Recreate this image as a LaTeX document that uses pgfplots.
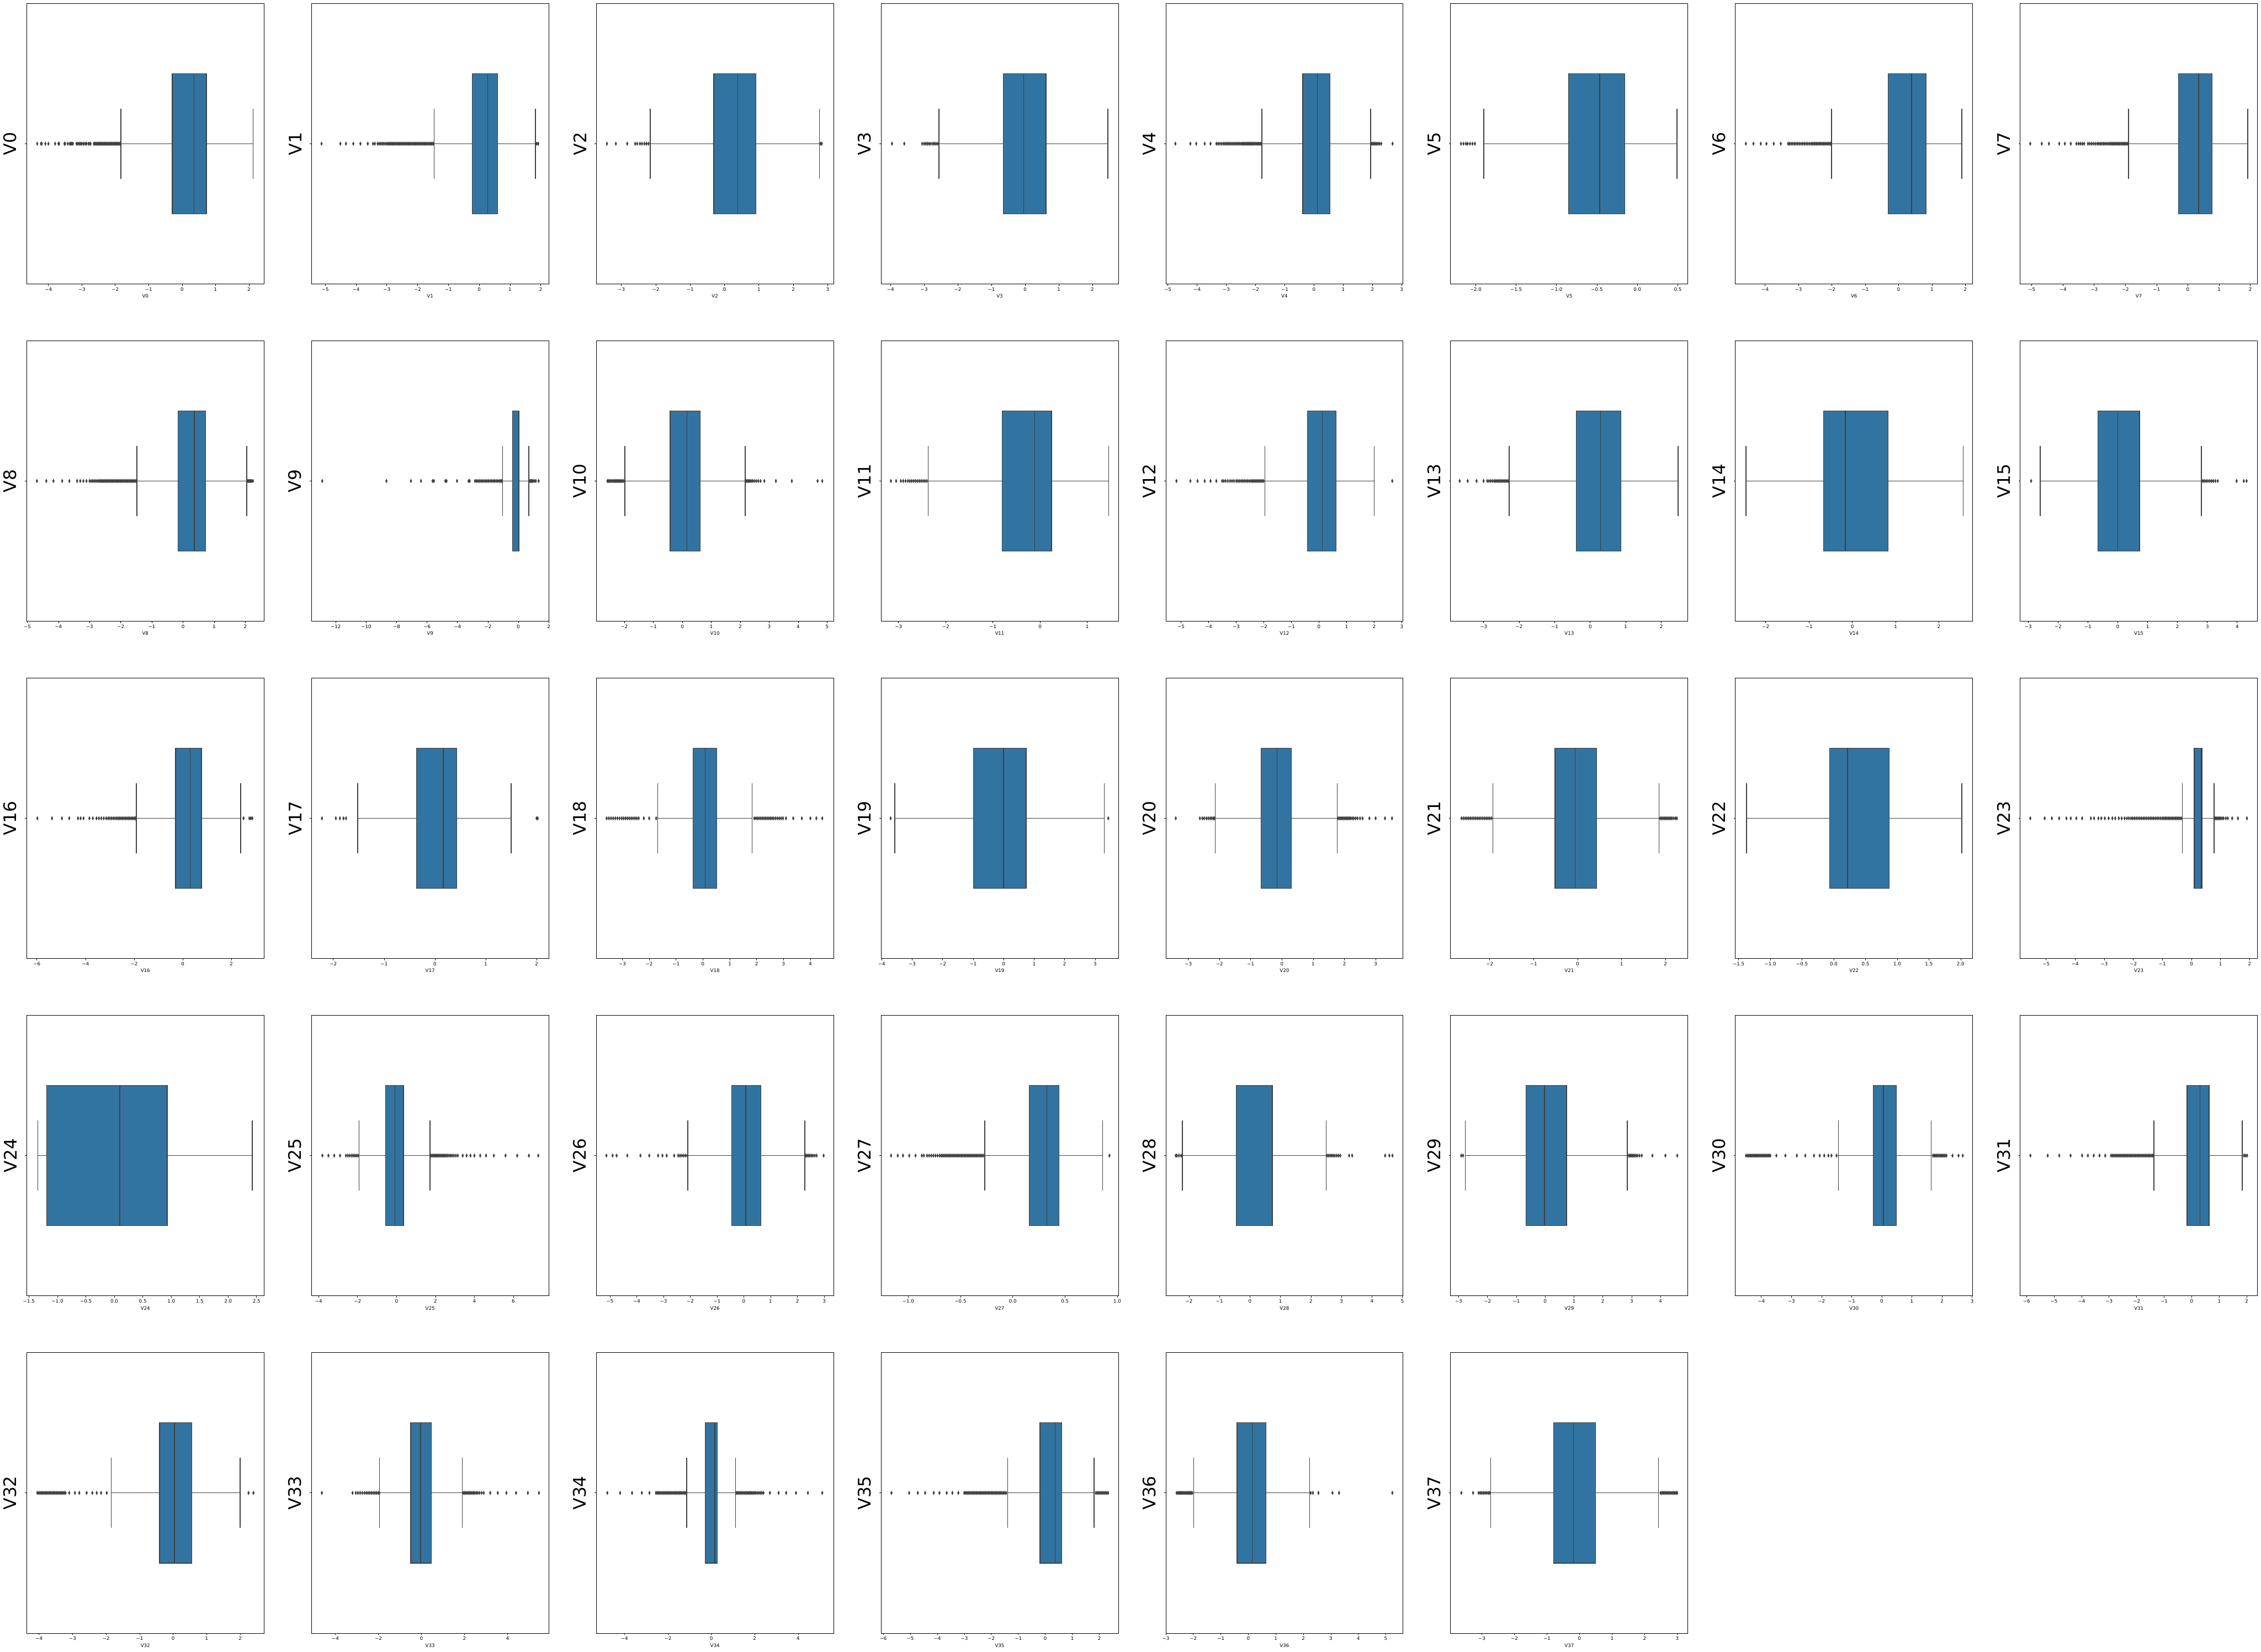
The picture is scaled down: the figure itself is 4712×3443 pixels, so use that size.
\documentclass[border=0pt]{standalone}
\usepackage{fontspec}
\setmainfont{DejaVu Sans}
\usepackage{pgfplots}
\pgfplotsset{compat=1.18}
\usepgfplotslibrary{statistics}
\definecolor{boxblue}{RGB}{50,116,161}
\definecolor{edgegray}{RGB}{63,63,63}
\pgfplotsset{
  bp/.style={
    scale only axis, width=494.5pt, height=585pt, anchor=north west,
    ymin=-0.5, ymax=0.5, ytick={0}, yticklabels={},
    tick pos=left, tick align=outside,
    major tick length=3.5pt,
    every tick/.style={black, line width=0.8pt},
    axis line style={black, line width=1pt},
    ticklabel style={font=\fontsize{10}{12}\selectfont, text=black},
    xlabel style={font=\fontsize{10}{12}\selectfont},
    every axis y label/.style={at={(axis description cs:-0.0417,0.5)}, rotate=90, anchor=south, inner sep=0pt, font=\fontsize{36}{43}\selectfont},
    boxplot/draw direction=x,
  },
  bx/.style={solid, draw=edgegray, line width=1.6pt, mark=none,
    boxplot/draw position=0, boxplot/box extend=0.5, boxplot/whisker extend=0.25,
    boxplot/every box/.style={fill=boxblue}},
  ol/.style={only marks, mark=diamond*, mark size=3.9pt,
    mark options={xscale=0.65, fill=edgegray, draw=edgegray, line width=0.6pt}},
}
\begin{document}
\begin{tikzpicture}
\useasboundingbox (0,0) rectangle (4712pt,-3443pt);
% ---------------- row 1
\begin{axis}[bp, at={(55.6pt,-7pt)}, xmin=-4.65, xmax=2.45, xtick={-4,...,2}, xticklabels={−4,−3,−2,−1,0,1,2}, xlabel={V0}, ylabel={V0}]
\addplot[bx, boxplot prepared={lower whisker=-1.83, lower quartile=-0.297, median=0.359, upper quartile=0.726, upper whisker=2.121}] coordinates {};
\addplot[ol] coordinates {(-4.335,0)(-4.22,0)(-4.20,0)(-4.09,0)(-4.00,0)(-3.80,0)(-3.70,0)(-3.68,0)(-3.52,0)(-3.50,0)(-3.42,0)(-3.36,0)(-3.33,0)(-3.30,0)(-3.27,0)(-3.16,0)(-3.12,0)(-3.08,0)(-3.04,0)(-3.00,0)(-2.95,0)(-2.90,0)(-2.86,0)(-2.80,0)(-2.76,0)(-2.74,0)(-2.64,0)(-2.61,0)(-2.58,0)(-2.55,0)(-2.52,0)(-2.49,0)(-2.46,0)(-2.43,0)(-2.40,0)(-2.37,0)(-2.34,0)(-2.31,0)(-2.28,0)(-2.25,0)(-2.22,0)(-2.19,0)(-2.16,0)(-2.13,0)(-2.10,0)(-2.07,0)(-2.04,0)(-2.01,0)(-1.98,0)(-1.95,0)(-1.92,0)(-1.89,0)(-1.86,0)};
\end{axis}
\begin{axis}[bp, at={(649.1pt,-7pt)}, xmin=-5.45, xmax=2.26, xtick={-5,...,2}, xticklabels={−5,−4,−3,−2,−1,0,1,2}, xlabel={V1}, ylabel={V1}]
\addplot[bx, boxplot prepared={lower whisker=-1.46, lower quartile=-0.226, median=0.2725, upper quartile=0.599, upper whisker=1.83}] coordinates {};
\addplot[ol] coordinates {(-5.122,0)(-4.51,0)(-4.33,0)(-4.09,0)(-3.86,0)(-3.62,0)(-3.45,0)(-3.39,0)(-3.30,0)(-3.25,0)(-3.20,0)(-3.15,0)(-3.10,0)(-3.05,0)(-3.00,0)(-2.96,0)(-2.92,0)(-2.88,0)(-2.84,0)(-2.80,0)(-2.76,0)(-2.72,0)(-2.68,0)(-2.64,0)(-2.60,0)(-2.56,0)(-2.52,0)(-2.48,0)(-2.44,0)(-2.40,0)(-2.36,0)(-2.32,0)(-2.28,0)(-2.24,0)(-2.20,0)(-2.16,0)(-2.12,0)(-2.08,0)(-2.04,0)(-2.00,0)(-1.96,0)(-1.92,0)(-1.88,0)(-1.84,0)(-1.80,0)(-1.76,0)(-1.72,0)(-1.68,0)(-1.64,0)(-1.60,0)(-1.56,0)(-1.52,0)(-1.48,0)(1.87,0)(1.918,0)};
\end{axis}
\begin{axis}[bp, at={(1242.6pt,-7pt)}, xmin=-3.73, xmax=3.17, xtick={-3,...,3}, xticklabels={−3,−2,−1,0,1,2,3}, xlabel={V2}, ylabel={V2}]
\addplot[bx, boxplot prepared={lower whisker=-2.16, lower quartile=-0.313, median=0.386, upper quartile=0.918, upper whisker=2.76}] coordinates {};
\addplot[ol] coordinates {(-3.42,0)(-3.16,0)(-2.83,0)(-2.60,0)(-2.54,0)(-2.46,0)(-2.40,0)(-2.33,0)(-2.27,0)(-2.21,0)(2.79,0)(2.828,0)};
\end{axis}
\begin{axis}[bp, at={(1836.1pt,-7pt)}, xmin=-4.28, xmax=2.77, xtick={-4,...,2}, xticklabels={−4,−3,−2,−1,0,1,2}, xlabel={V3}, ylabel={V3}]
\addplot[bx, boxplot prepared={lower whisker=-2.56, lower quartile=-0.652, median=-0.0445, upper quartile=0.624, upper whisker=2.457}] coordinates {};
\addplot[ol] coordinates {(-3.956,0)(-3.59,0)(-3.06,0)(-3.00,0)(-2.95,0)(-2.90,0)(-2.85,0)(-2.80,0)(-2.74,0)(-2.70,0)(-2.65,0)(-2.60,0)};
\end{axis}
\begin{axis}[bp, at={(2429.6pt,-7pt)}, xmin=-5.07, xmax=3.05, xtick={-5,...,3}, xticklabels={−5,−4,−3,−2,−1,0,1,2,3}, xlabel={V4}, ylabel={V4}]
\addplot[bx, boxplot prepared={lower whisker=-1.78, lower quartile=-0.385, median=0.11, upper quartile=0.550, upper whisker=1.94}] coordinates {};
\addplot[ol] coordinates {(-4.742,0)(-4.23,0)(-4.03,0)(-3.74,0)(-3.54,0)(-3.34,0)(-3.28,0)(-3.22,0)(-3.16,0)(-3.10,0)(-3.05,0)(-3.00,0)(-2.95,0)(-2.90,0)(-2.85,0)(-2.80,0)(-2.75,0)(-2.70,0)(-2.65,0)(-2.60,0)(-2.55,0)(-2.50,0)(-2.46,0)(-2.42,0)(-2.38,0)(-2.34,0)(-2.30,0)(-2.26,0)(-2.22,0)(-2.18,0)(-2.14,0)(-2.10,0)(-2.06,0)(-2.02,0)(-1.98,0)(-1.94,0)(-1.90,0)(-1.86,0)(-1.82,0)(1.98,0)(2.02,0)(2.06,0)(2.10,0)(2.14,0)(2.19,0)(2.24,0)(2.30,0)(2.689,0)};
\end{axis}
\begin{axis}[bp, at={(3023.1pt,-7pt)}, xmin=-2.31, xmax=0.625, xtick={-2,-1.5,-1,-0.5,0,0.5}, xticklabels={−2.0,−1.5,−1.0,−0.5,0.0,0.5}, xlabel={V5}, ylabel={V5}]
\addplot[bx, boxplot prepared={lower whisker=-1.90, lower quartile=-0.853, median=-0.466, upper quartile=-0.154, upper whisker=0.489}] coordinates {};
\addplot[ol] coordinates {(-2.182,0)(-2.15,0)(-2.12,0)(-2.10,0)(-2.07,0)(-2.04,0)(-2.01,0)};
\end{axis}
\begin{axis}[bp, at={(3616.6pt,-7pt)}, xmin=-4.89, xmax=2.22, xtick={-4,...,2}, xticklabels={−4,−3,−2,−1,0,1,2}, xlabel={V6}, ylabel={V6}]
\addplot[bx, boxplot prepared={lower whisker=-2.01, lower quartile=-0.31, median=0.388, upper quartile=0.831, upper whisker=1.895}] coordinates {};
\addplot[ol] coordinates {(-4.576,0)(-4.35,0)(-4.13,0)(-3.96,0)(-3.74,0)(-3.53,0)(-3.31,0)(-3.27,0)(-3.22,0)(-3.17,0)(-3.12,0)(-3.07,0)(-3.02,0)(-2.97,0)(-2.92,0)(-2.87,0)(-2.82,0)(-2.77,0)(-2.72,0)(-2.67,0)(-2.62,0)(-2.58,0)(-2.54,0)(-2.50,0)(-2.46,0)(-2.42,0)(-2.38,0)(-2.34,0)(-2.30,0)(-2.26,0)(-2.22,0)(-2.18,0)(-2.14,0)(-2.10,0)(-2.06,0)(-2.03,0)};
\end{axis}
\begin{axis}[bp, at={(4210.1pt,-7pt)}, xmin=-5.37, xmax=2.23, xtick={-5,...,2}, xticklabels={−5,−4,−3,−2,−1,0,1,2}, xlabel={V7}, ylabel={V7}]
\addplot[bx, boxplot prepared={lower whisker=-1.90, lower quartile=-0.295, median=0.344, upper quartile=0.782, upper whisker=1.918}] coordinates {};
\addplot[ol] coordinates {(-5.048,0)(-4.68,0)(-4.45,0)(-4.12,0)(-3.94,0)(-3.75,0)(-3.57,0)(-3.50,0)(-3.44,0)(-3.38,0)(-3.32,0)(-3.20,0)(-3.14,0)(-3.08,0)(-3.02,0)(-2.96,0)(-2.90,0)(-2.85,0)(-2.80,0)(-2.75,0)(-2.70,0)(-2.65,0)(-2.60,0)(-2.55,0)(-2.50,0)(-2.46,0)(-2.42,0)(-2.38,0)(-2.34,0)(-2.30,0)(-2.26,0)(-2.22,0)(-2.18,0)(-2.14,0)(-2.10,0)(-2.06,0)(-2.02,0)(-1.98,0)(-1.94,0)};
\end{axis}
% ---------------- row 2
\begin{axis}[bp, at={(55.6pt,-710pt)}, xmin=-5.02, xmax=2.6, xtick={-5,...,2}, xticklabels={−5,−4,−3,−2,−1,0,1,2}, xlabel={V8}, ylabel={V8}]
\addplot[bx, boxplot prepared={lower whisker=-1.48, lower quartile=-0.159, median=0.362, upper quartile=0.726, upper whisker=2.05}] coordinates {};
\addplot[ol] coordinates {(-4.692,0)(-4.39,0)(-4.16,0)(-3.88,0)(-3.65,0)(-3.40,0)(-3.30,0)(-3.20,0)(-3.10,0)(-3.00,0)(-2.95,0)(-2.90,0)(-2.85,0)(-2.80,0)(-2.75,0)(-2.70,0)(-2.66,0)(-2.62,0)(-2.58,0)(-2.54,0)(-2.50,0)(-2.46,0)(-2.42,0)(-2.38,0)(-2.34,0)(-2.30,0)(-2.26,0)(-2.22,0)(-2.18,0)(-2.14,0)(-2.10,0)(-2.06,0)(-2.02,0)(-1.98,0)(-1.94,0)(-1.90,0)(-1.86,0)(-1.82,0)(-1.78,0)(-1.74,0)(-1.70,0)(-1.66,0)(-1.62,0)(-1.58,0)(-1.54,0)(-1.50,0)(2.08,0)(2.11,0)(2.14,0)(2.17,0)(2.20,0)(2.245,0)};
\end{axis}
\begin{axis}[bp, at={(649.1pt,-710pt)}, xmin=-13.6, xmax=2.0, xtick={-12,-10,...,2}, xticklabels={−12,−10,−8,−6,−4,−2,0,2}, xlabel={V9}, ylabel={V9}]
\addplot[bx, boxplot prepared={lower whisker=-1.03, lower quartile=-0.39, median=0.042, upper quartile=0.042, upper whisker=0.69}] coordinates {};
\addplot[ol] coordinates {(-12.891,0)(-8.67,0)(-7.06,0)(-6.40,0)(-5.64,0)(-5.55,0)(-4.80,0)(-4.72,0)(-4.03,0)(-3.27,0)(-3.20,0)(-2.85,0)(-2.75,0)(-2.65,0)(-2.55,0)(-2.45,0)(-2.35,0)(-2.25,0)(-2.15,0)(-2.05,0)(-1.95,0)(-1.85,0)(-1.75,0)(-1.65,0)(-1.55,0)(-1.45,0)(-1.35,0)(-1.25,0)(-1.15,0)(-1.08,0)(0.72,0)(0.78,0)(0.84,0)(0.90,0)(0.96,0)(1.05,0)(1.15,0)(1.335,0)};
\end{axis}
\begin{axis}[bp, at={(1242.6pt,-710pt)}, xmin=-2.97, xmax=5.22, xtick={-2,...,5}, xticklabels={−2,−1,0,1,2,3,4,5}, xlabel={V10}, ylabel={V10}]
\addplot[bx, boxplot prepared={lower whisker=-1.98, lower quartile=-0.42, median=0.157, upper quartile=0.619, upper whisker=2.17}] coordinates {};
\addplot[ol] coordinates {(-2.584,0)(-2.55,0)(-2.51,0)(-2.47,0)(-2.43,0)(-2.39,0)(-2.35,0)(-2.31,0)(-2.27,0)(-2.23,0)(-2.19,0)(-2.15,0)(-2.11,0)(-2.07,0)(-2.03,0)(-1.99,0)(2.20,0)(2.24,0)(2.28,0)(2.32,0)(2.37,0)(2.42,0)(2.48,0)(2.55,0)(2.62,0)(2.70,0)(2.83,0)(3.23,0)(3.78,0)(4.67,0)(4.83,0)};
\end{axis}
\begin{axis}[bp, at={(1836.1pt,-710pt)}, xmin=-3.37, xmax=1.66, xtick={-3,...,1}, xticklabels={−3,−2,−1,0,1}, xlabel={V11}, ylabel={V11}]
\addplot[bx, boxplot prepared={lower whisker=-2.37, lower quartile=-0.803, median=-0.112, upper quartile=0.247, upper whisker=1.455}] coordinates {};
\addplot[ol] coordinates {(-3.16,0)(-3.05,0)(-2.95,0)(-2.90,0)(-2.85,0)(-2.80,0)(-2.76,0)(-2.72,0)(-2.68,0)(-2.64,0)(-2.60,0)(-2.56,0)(-2.52,0)(-2.48,0)(-2.44,0)(-2.40,0)};
\end{axis}
\begin{axis}[bp, at={(2429.6pt,-710pt)}, xmin=-5.55, xmax=3.05, xtick={-5,...,3}, xticklabels={−5,−4,−3,−2,−1,0,1,2,3}, xlabel={V12}, ylabel={V12}]
\addplot[bx, boxplot prepared={lower whisker=-1.96, lower quartile=-0.419, median=0.123, upper quartile=0.616, upper whisker=2.0}] coordinates {};
\addplot[ol] coordinates {(-5.165,0)(-4.66,0)(-4.40,0)(-4.14,0)(-3.93,0)(-3.72,0)(-3.51,0)(-3.45,0)(-3.38,0)(-3.30,0)(-3.22,0)(-3.15,0)(-3.08,0)(-3.00,0)(-2.94,0)(-2.88,0)(-2.82,0)(-2.76,0)(-2.70,0)(-2.64,0)(-2.58,0)(-2.52,0)(-2.46,0)(-2.41,0)(-2.36,0)(-2.31,0)(-2.26,0)(-2.21,0)(-2.16,0)(-2.11,0)(-2.06,0)(-2.01,0)(2.657,0)};
\end{axis}
\begin{axis}[bp, at={(3023.1pt,-710pt)}, xmin=-3.93, xmax=2.75, xtick={-3,...,2}, xticklabels={−3,−2,−1,0,1,2}, xlabel={V13}, ylabel={V13}]
\addplot[bx, boxplot prepared={lower whisker=-2.28, lower quartile=-0.398, median=0.2895, upper quartile=0.864, upper whisker=2.475}] coordinates {};
\addplot[ol] coordinates {(-3.675,0)(-3.45,0)(-3.20,0)(-3.00,0)(-2.90,0)(-2.85,0)(-2.80,0)(-2.75,0)(-2.70,0)(-2.66,0)(-2.62,0)(-2.58,0)(-2.54,0)(-2.50,0)(-2.46,0)(-2.42,0)(-2.38,0)(-2.34,0)(-2.30,0)};
\end{axis}
\begin{axis}[bp, at={(3616.6pt,-710pt)}, xmin=-2.7, xmax=2.78, xtick={-2,...,2}, xticklabels={−2,−1,0,1,2}, xlabel={V14}, ylabel={V14}]
\addplot[bx, boxplot prepared={lower whisker=-2.455, lower quartile=-0.668, median=-0.161, upper quartile=0.8295, upper whisker=2.558}] coordinates {};
\end{axis}
\begin{axis}[bp, at={(4210.1pt,-710pt)}, xmin=-3.27, xmax=4.68, xtick={-3,...,4}, xticklabels={−3,−2,−1,0,1,2,3,4}, xlabel={V15}, ylabel={V15}]
\addplot[bx, boxplot prepared={lower whisker=-2.6, lower quartile=-0.662, median=-0.0005, upper quartile=0.73, upper whisker=2.8}] coordinates {};
\addplot[ol] coordinates {(-2.903,0)(2.85,0)(2.90,0)(2.96,0)(3.02,0)(3.08,0)(3.14,0)(3.20,0)(3.27,0)(3.35,0)(3.98,0)(4.22,0)(4.314,0)};
\end{axis}
% ---------------- row 3
\begin{axis}[bp, at={(55.6pt,-1413pt)}, xmin=-6.42, xmax=3.34, xtick={-6,-4,...,2}, xticklabels={−6,−4,−2,0,2}, xlabel={V16}, ylabel={V16}]
\addplot[bx, boxplot prepared={lower whisker=-1.91, lower quartile=-0.3, median=0.306, upper quartile=0.774, upper whisker=2.38}] coordinates {};
\addplot[ol] coordinates {(-5.981,0)(-5.38,0)(-4.97,0)(-4.67,0)(-4.31,0)(-4.20,0)(-4.08,0)(-3.84,0)(-3.70,0)(-3.55,0)(-3.45,0)(-3.35,0)(-3.25,0)(-3.15,0)(-3.07,0)(-3.00,0)(-2.93,0)(-2.86,0)(-2.79,0)(-2.72,0)(-2.66,0)(-2.60,0)(-2.54,0)(-2.48,0)(-2.42,0)(-2.36,0)(-2.30,0)(-2.24,0)(-2.18,0)(-2.12,0)(-2.06,0)(-2.00,0)(-1.95,0)(2.50,0)(2.74,0)(2.80,0)(2.861,0)};
\end{axis}
\begin{axis}[bp, at={(649.1pt,-1413pt)}, xmin=-2.43, xmax=2.24, xtick={-2,...,2}, xticklabels={−2,−1,0,1,2}, xlabel={V17}, ylabel={V17}]
\addplot[bx, boxplot prepared={lower whisker=-1.52, lower quartile=-0.366, median=0.165, upper quartile=0.43, upper whisker=1.5}] coordinates {};
\addplot[ol] coordinates {(-2.224,0)(-1.95,0)(-1.87,0)(-1.80,0)(-1.75,0)(2.0,0)(2.023,0)};
\end{axis}
\begin{axis}[bp, at={(1242.6pt,-1413pt)}, xmin=-3.97, xmax=4.86, xtick={-3,...,4}, xticklabels={−3,−2,−1,0,1,2,3,4}, xlabel={V18}, ylabel={V18}]
\addplot[bx, boxplot prepared={lower whisker=-1.68, lower quartile=-0.367, median=0.082, upper quartile=0.513, upper whisker=1.83}] coordinates {};
\addplot[ol] coordinates {(-3.582,0)(-3.50,0)(-3.42,0)(-3.34,0)(-3.26,0)(-3.18,0)(-3.10,0)(-3.02,0)(-2.95,0)(-2.88,0)(-2.81,0)(-2.74,0)(-2.67,0)(-2.60,0)(-2.53,0)(-2.46,0)(-2.39,0)(-2.20,0)(-2.00,0)(-1.74,0)(1.91,0)(1.97,0)(2.03,0)(2.09,0)(2.15,0)(2.21,0)(2.27,0)(2.33,0)(2.39,0)(2.45,0)(2.51,0)(2.57,0)(2.63,0)(2.70,0)(2.77,0)(2.84,0)(2.91,0)(2.98,0)(3.09,0)(3.36,0)(3.68,0)(4.00,0)(4.22,0)(4.441,0)};
\end{axis}
\begin{axis}[bp, at={(1836.1pt,-1413pt)}, xmin=-4.02, xmax=3.76, xtick={-4,...,3}, xticklabels={−4,−3,−2,−1,0,1,2,3}, xlabel={V19}, ylabel={V19}]
\addplot[bx, boxplot prepared={lower whisker=-3.57, lower quartile=-0.988, median=-0.0005, upper quartile=0.737, upper whisker=3.3}] coordinates {};
\addplot[ol] coordinates {(-3.704,0)(3.431,0)};
\end{axis}
\begin{axis}[bp, at={(2429.6pt,-1413pt)}, xmin=-3.72, xmax=3.88, xtick={-3,...,3}, xticklabels={−3,−2,−1,0,1,2,3}, xlabel={V20}, ylabel={V20}]
\addplot[bx, boxplot prepared={lower whisker=-2.14, lower quartile=-0.6755, median=-0.1565, upper quartile=0.304, upper whisker=1.77}] coordinates {};
\addplot[ol] coordinates {(-3.402,0)(-2.63,0)(-2.55,0)(-2.49,0)(-2.42,0)(-2.36,0)(-2.30,0)(-2.25,0)(-2.20,0)(-2.16,0)(1.80,0)(1.84,0)(1.88,0)(1.92,0)(1.96,0)(2.00,0)(2.04,0)(2.08,0)(2.12,0)(2.16,0)(2.20,0)(2.25,0)(2.30,0)(2.36,0)(2.42,0)(2.50,0)(2.58,0)(2.80,0)(3.00,0)(3.30,0)(3.525,0)};
\end{axis}
\begin{axis}[bp, at={(3023.1pt,-1413pt)}, xmin=-2.89, xmax=2.51, xtick={-2,...,2}, xticklabels={−2,−1,0,1,2}, xlabel={V21}, ylabel={V21}]
\addplot[bx, boxplot prepared={lower whisker=-1.93, lower quartile=-0.517, median=-0.0565, upper quartile=0.431, upper whisker=1.85}] coordinates {};
\addplot[ol] coordinates {(-2.643,0)(-2.60,0)(-2.56,0)(-2.52,0)(-2.48,0)(-2.44,0)(-2.40,0)(-2.36,0)(-2.32,0)(-2.28,0)(-2.24,0)(-2.20,0)(-2.16,0)(-2.12,0)(-2.08,0)(-2.04,0)(-2.00,0)(-1.96,0)(1.88,0)(1.91,0)(1.94,0)(1.97,0)(2.00,0)(2.03,0)(2.06,0)(2.09,0)(2.12,0)(2.15,0)(2.19,0)(2.23,0)(2.259,0)};
\end{axis}
\begin{axis}[bp, at={(3616.6pt,-1413pt)}, xmin=-1.55, xmax=2.19, xtick={-1.5,-1,...,2}, xticklabels={−1.5,−1.0,−0.5,0.0,0.5,1.0,1.5,2.0}, xlabel={V22}, ylabel={V22}]
\addplot[bx, boxplot prepared={lower whisker=-1.375, lower quartile=-0.063, median=0.2165, upper quartile=0.872, upper whisker=2.018}] coordinates {};
\end{axis}
\begin{axis}[bp, at={(4210.1pt,-1413pt)}, xmin=-5.89, xmax=2.27, xtick={-5,...,2}, xticklabels={−5,−4,−3,−2,−1,0,1,2}, xlabel={V23}, ylabel={V23}]
\addplot[bx, boxplot prepared={lower whisker=-0.31, lower quartile=0.097, median=0.338, upper quartile=0.3685, upper whisker=0.776}] coordinates {};
\addplot[ol] coordinates {(-5.542,0)(-5.05,0)(-4.80,0)(-4.55,0)(-4.30,0)(-4.15,0)(-3.96,0)(-3.76,0)(-3.46,0)(-3.35,0)(-3.20,0)(-3.10,0)(-2.98,0)(-2.85,0)(-2.72,0)(-2.62,0)(-2.50,0)(-2.40,0)(-2.30,0)(-2.22,0)(-2.15,0)(-2.08,0)(-2.02,0)(-1.96,0)(-1.90,0)(-1.84,0)(-1.78,0)(-1.72,0)(-1.66,0)(-1.60,0)(-1.54,0)(-1.48,0)(-1.42,0)(-1.36,0)(-1.30,0)(-1.24,0)(-1.18,0)(-1.12,0)(-1.06,0)(-1.00,0)(-0.95,0)(-0.90,0)(-0.85,0)(-0.80,0)(-0.75,0)(-0.70,0)(-0.65,0)(-0.60,0)(-0.55,0)(-0.50,0)(-0.45,0)(-0.40,0)(-0.35,0)(0.80,0)(0.84,0)(0.88,0)(0.92,0)(0.96,0)(1.00,0)(1.05,0)(1.10,0)(1.18,0)(1.25,0)(1.40,0)(1.60,0)(1.906,0)};
\end{axis}
% ---------------- row 4
\begin{axis}[bp, at={(55.6pt,-2116pt)}, xmin=-1.54, xmax=2.63, xtick={-1.5,-1,...,2.5}, xticklabels={−1.5,−1.0,−0.5,0.0,0.5,1.0,1.5,2.0,2.5}, xlabel={V24}, ylabel={V24}]
\addplot[bx, boxplot prepared={lower whisker=-1.344, lower quartile=-1.191, median=0.095, upper quartile=0.931, upper whisker=2.423}] coordinates {};
\end{axis}
\begin{axis}[bp, at={(649.1pt,-2116pt)}, xmin=-4.37, xmax=7.82, xtick={-4,-2,...,6}, xticklabels={−4,−2,0,2,4,6}, xlabel={V25}, ylabel={V25}]
\addplot[bx, boxplot prepared={lower whisker=-1.92, lower quartile=-0.557, median=-0.076, upper quartile=0.356, upper whisker=1.72}] coordinates {};
\addplot[ol] coordinates {(-3.808,0)(-3.50,0)(-3.20,0)(-2.90,0)(-2.60,0)(-2.50,0)(-2.40,0)(-2.30,0)(-2.22,0)(-2.14,0)(-2.06,0)(-1.98,0)(1.76,0)(1.82,0)(1.88,0)(1.94,0)(2.00,0)(2.06,0)(2.12,0)(2.18,0)(2.24,0)(2.30,0)(2.36,0)(2.42,0)(2.48,0)(2.55,0)(2.62,0)(2.70,0)(2.78,0)(2.86,0)(2.95,0)(3.05,0)(3.15,0)(3.40,0)(3.60,0)(3.80,0)(4.00,0)(4.30,0)(4.60,0)(5.00,0)(5.60,0)(6.20,0)(6.80,0)(7.284,0)};
\end{axis}
\begin{axis}[bp, at={(1242.6pt,-2116pt)}, xmin=-5.51, xmax=3.35, xtick={-5,...,3}, xticklabels={−5,−4,−3,−2,−1,0,1,2,3}, xlabel={V26}, ylabel={V26}]
\addplot[bx, boxplot prepared={lower whisker=-2.09, lower quartile=-0.452, median=0.075, upper quartile=0.644, upper whisker=2.28}] coordinates {};
\addplot[ol] coordinates {(-5.131,0)(-4.90,0)(-4.75,0)(-4.35,0)(-3.86,0)(-3.53,0)(-3.20,0)(-3.04,0)(-2.88,0)(-2.60,0)(-2.45,0)(-2.38,0)(-2.31,0)(-2.24,0)(-2.17,0)(-2.10,0)(2.31,0)(2.36,0)(2.41,0)(2.46,0)(2.52,0)(2.58,0)(2.65,0)(2.72,0)(2.98,0)};
\end{axis}
\begin{axis}[bp, at={(1836.1pt,-2116pt)}, xmin=-1.26, xmax=1.01, xtick={-1,-0.5,...,1}, xticklabels={−1.0,−0.5,0.0,0.5,1.0}, xlabel={V27}, ylabel={V27}]
\addplot[bx, boxplot prepared={lower whisker=-0.267, lower quartile=0.158, median=0.325, upper quartile=0.442, upper whisker=0.86}] coordinates {};
\addplot[ol] coordinates {(-1.164,0)(-1.10,0)(-1.05,0)(-0.99,0)(-0.93,0)(-0.87,0)(-0.85,0)(-0.82,0)(-0.80,0)(-0.78,0)(-0.76,0)(-0.74,0)(-0.72,0)(-0.70,0)(-0.685,0)(-0.672,0)(-0.659,0)(-0.646,0)(-0.633,0)(-0.620,0)(-0.607,0)(-0.594,0)(-0.581,0)(-0.568,0)(-0.555,0)(-0.542,0)(-0.529,0)(-0.516,0)(-0.503,0)(-0.490,0)(-0.477,0)(-0.464,0)(-0.451,0)(-0.438,0)(-0.425,0)(-0.412,0)(-0.399,0)(-0.386,0)(-0.373,0)(-0.360,0)(-0.347,0)(-0.334,0)(-0.321,0)(-0.308,0)(-0.295,0)(-0.282,0)(0.925,0)};
\end{axis}
\begin{axis}[bp, at={(2429.6pt,-2116pt)}, xmin=-2.76, xmax=5.02, xtick={-2,...,5}, xticklabels={−2,−1,0,1,2,3,4,5}, xlabel={V28}, ylabel={V28}]
\addplot[bx, boxplot prepared={lower whisker=-2.22, lower quartile=-0.455, median=-0.447, upper quartile=0.73, upper whisker=2.5}] coordinates {};
\addplot[ol] coordinates {(-2.435,0)(-2.40,0)(-2.33,0)(-2.26,0)(2.53,0)(2.58,0)(2.63,0)(2.68,0)(2.73,0)(2.78,0)(2.84,0)(2.90,0)(2.96,0)(3.25,0)(3.35,0)(4.43,0)(4.57,0)(4.671,0)};
\end{axis}
\begin{axis}[bp, at={(3023.1pt,-2116pt)}, xmin=-3.28, xmax=4.95, xtick={-3,...,4}, xticklabels={−3,−2,−1,0,1,2,3,4}, xlabel={V29}, ylabel={V29}]
\addplot[bx, boxplot prepared={lower whisker=-2.77, lower quartile=-0.664, median=-0.023, upper quartile=0.745, upper whisker=2.85}] coordinates {};
\addplot[ol] coordinates {(-2.912,0)(-2.85,0)(2.90,0)(2.94,0)(2.98,0)(3.02,0)(3.06,0)(3.10,0)(3.15,0)(3.20,0)(3.27,0)(3.35,0)(3.72,0)(4.17,0)(4.58,0)};
\end{axis}
\begin{axis}[bp, at={(3616.6pt,-2116pt)}, xmin=-4.86, xmax=3.02, xtick={-4,...,3}, xticklabels={−4,−3,−2,−1,0,1,2,3}, xlabel={V30}, ylabel={V30}]
\addplot[bx, boxplot prepared={lower whisker=-1.44, lower quartile=-0.283, median=0.0535, upper quartile=0.488, upper whisker=1.64}] coordinates {};
\addplot[ol] coordinates {(-4.507,0)(-4.46,0)(-4.42,0)(-4.38,0)(-4.34,0)(-4.30,0)(-4.26,0)(-4.22,0)(-4.18,0)(-4.14,0)(-4.10,0)(-4.06,0)(-4.02,0)(-3.98,0)(-3.94,0)(-3.90,0)(-3.86,0)(-3.82,0)(-3.78,0)(-3.74,0)(-3.70,0)(-3.50,0)(-3.20,0)(-2.82,0)(-2.54,0)(-2.25,0)(-2.06,0)(-1.91,0)(-1.77,0)(-1.67,0)(-1.50,0)(1.70,0)(1.74,0)(1.78,0)(1.82,0)(1.86,0)(1.90,0)(1.94,0)(1.98,0)(2.02,0)(2.06,0)(2.10,0)(2.15,0)(2.35,0)(2.55,0)(2.689,0)};
\end{axis}
\begin{axis}[bp, at={(4210.1pt,-2116pt)}, xmin=-6.23, xmax=2.39, xtick={-6,...,2}, xticklabels={−6,−5,−4,−3,−2,−1,0,1,2}, xlabel={V31}, ylabel={V31}]
\addplot[bx, boxplot prepared={lower whisker=-1.37, lower quartile=-0.170, median=0.2995, upper quartile=0.635, upper whisker=1.84}] coordinates {};
\addplot[ol] coordinates {(-5.859,0)(-5.23,0)(-4.81,0)(-4.40,0)(-3.98,0)(-3.77,0)(-3.56,0)(-3.35,0)(-3.14,0)(-2.93,0)(-2.88,0)(-2.83,0)(-2.78,0)(-2.73,0)(-2.68,0)(-2.63,0)(-2.58,0)(-2.53,0)(-2.48,0)(-2.43,0)(-2.38,0)(-2.33,0)(-2.28,0)(-2.23,0)(-2.18,0)(-2.13,0)(-2.08,0)(-2.03,0)(-1.98,0)(-1.93,0)(-1.88,0)(-1.83,0)(-1.78,0)(-1.73,0)(-1.68,0)(-1.63,0)(-1.58,0)(-1.53,0)(-1.48,0)(-1.43,0)(-1.39,0)(1.90,0)(1.95,0)(2.013,0)};
\end{axis}
% ---------------- row 5
\begin{axis}[bp, at={(55.6pt,-2819pt)}, xmin=-4.37, xmax=2.71, xtick={-4,...,2}, xticklabels={−4,−3,−2,−1,0,1,2}, xlabel={V32}, ylabel={V32}]
\addplot[bx, boxplot prepared={lower whisker=-1.85, lower quartile=-0.407, median=0.039, upper quartile=0.557, upper whisker=2.0}] coordinates {};
\addplot[ol] coordinates {(-4.053,0)(-4.01,0)(-3.97,0)(-3.93,0)(-3.89,0)(-3.85,0)(-3.81,0)(-3.77,0)(-3.73,0)(-3.69,0)(-3.65,0)(-3.61,0)(-3.57,0)(-3.53,0)(-3.49,0)(-3.45,0)(-3.41,0)(-3.37,0)(-3.33,0)(-3.29,0)(-3.25,0)(-3.21,0)(-3.10,0)(-2.93,0)(-2.80,0)(-2.58,0)(-2.41,0)(-2.28,0)(-2.15,0)(-1.98,0)(2.25,0)(2.395,0)};
\end{axis}
\begin{axis}[bp, at={(649.1pt,-2819pt)}, xmin=-5.11, xmax=5.92, xtick={-4,-2,...,4}, xticklabels={−4,−2,0,2,4}, xlabel={V33}, ylabel={V33}]
\addplot[bx, boxplot prepared={lower whisker=-1.94, lower quartile=-0.499, median=-0.04, upper quartile=0.462, upper whisker=1.9}] coordinates {};
\addplot[ol] coordinates {(-4.627,0)(-3.20,0)(-3.05,0)(-2.95,0)(-2.85,0)(-2.75,0)(-2.65,0)(-2.56,0)(-2.48,0)(-2.40,0)(-2.32,0)(-2.24,0)(-2.16,0)(-2.08,0)(-2.00,0)(-1.95,0)(1.95,0)(2.00,0)(2.06,0)(2.12,0)(2.18,0)(2.24,0)(2.30,0)(2.36,0)(2.42,0)(2.48,0)(2.55,0)(2.62,0)(2.70,0)(2.80,0)(2.90,0)(3.20,0)(3.55,0)(3.95,0)(4.40,0)(4.95,0)(5.465,0)};
\end{axis}
\begin{axis}[bp, at={(1242.6pt,-2819pt)}, xmin=-5.3, xmax=5.63, xtick={-4,-2,...,4}, xticklabels={−4,−2,0,2,4}, xlabel={V34}, ylabel={V34}]
\addplot[bx, boxplot prepared={lower whisker=-1.13, lower quartile=-0.29, median=0.16, upper quartile=0.273, upper whisker=1.11}] coordinates {};
\addplot[ol] coordinates {(-4.789,0)(-4.20,0)(-3.65,0)(-3.20,0)(-2.85,0)(-2.55,0)(-2.49,0)(-2.43,0)(-2.37,0)(-2.31,0)(-2.25,0)(-2.19,0)(-2.13,0)(-2.07,0)(-2.01,0)(-1.95,0)(-1.89,0)(-1.83,0)(-1.77,0)(-1.71,0)(-1.65,0)(-1.59,0)(-1.53,0)(-1.47,0)(-1.41,0)(-1.35,0)(-1.29,0)(-1.23,0)(-1.17,0)(1.15,0)(1.21,0)(1.27,0)(1.33,0)(1.39,0)(1.45,0)(1.51,0)(1.57,0)(1.63,0)(1.69,0)(1.75,0)(1.81,0)(1.87,0)(1.93,0)(1.99,0)(2.05,0)(2.12,0)(2.19,0)(2.26,0)(2.33,0)(2.40,0)(2.70,0)(3.10,0)(3.45,0)(3.90,0)(4.45,0)(5.11,0)};
\end{axis}
\begin{axis}[bp, at={(1836.1pt,-2819pt)}, xmin=-6.08, xmax=2.7, xtick={-6,...,2}, xticklabels={−6,−5,−4,−3,−2,−1,0,1,2}, xlabel={V35}, ylabel={V35}]
\addplot[bx, boxplot prepared={lower whisker=-1.40, lower quartile=-0.2025, median=0.364, upper quartile=0.602, upper whisker=1.80}] coordinates {};
\addplot[ol] coordinates {(-5.695,0)(-5.04,0)(-4.72,0)(-4.45,0)(-4.13,0)(-3.92,0)(-3.65,0)(-3.44,0)(-3.22,0)(-3.00,0)(-2.95,0)(-2.90,0)(-2.85,0)(-2.80,0)(-2.75,0)(-2.70,0)(-2.65,0)(-2.60,0)(-2.55,0)(-2.50,0)(-2.45,0)(-2.40,0)(-2.35,0)(-2.30,0)(-2.25,0)(-2.20,0)(-2.15,0)(-2.10,0)(-2.05,0)(-2.00,0)(-1.95,0)(-1.90,0)(-1.85,0)(-1.80,0)(-1.75,0)(-1.70,0)(-1.65,0)(-1.60,0)(-1.55,0)(-1.50,0)(-1.45,0)(1.87,0)(1.92,0)(1.97,0)(2.02,0)(2.07,0)(2.12,0)(2.17,0)(2.22,0)(2.27,0)(2.324,0)};
\end{axis}
\begin{axis}[bp, at={(2429.6pt,-2819pt)}, xmin=-3.0, xmax=5.63, xtick={-3,...,5}, xticklabels={−3,−2,−1,0,1,2,3,4,5}, xlabel={V36}, ylabel={V36}]
\addplot[bx, boxplot prepared={lower whisker=-1.99, lower quartile=-0.413, median=0.137, upper quartile=0.644, upper whisker=2.23}] coordinates {};
\addplot[ol] coordinates {(-2.608,0)(-2.56,0)(-2.52,0)(-2.48,0)(-2.44,0)(-2.40,0)(-2.36,0)(-2.32,0)(-2.28,0)(-2.24,0)(-2.20,0)(-2.16,0)(-2.12,0)(-2.08,0)(-2.04,0)(2.27,0)(2.35,0)(2.55,0)(3.06,0)(3.30,0)(5.238,0)};
\end{axis}
\begin{axis}[bp, at={(3023.1pt,-2819pt)}, xmin=-3.96, xmax=3.33, xtick={-3,...,3}, xticklabels={−3,−2,−1,0,1,2,3}, xlabel={V37}, ylabel={V37}]
\addplot[bx, boxplot prepared={lower whisker=-2.73, lower quartile=-0.798, median=-0.1855, upper quartile=0.495, upper whisker=2.43}] coordinates {};
\addplot[ol] coordinates {(-3.63,0)(-3.27,0)(-3.10,0)(-3.05,0)(-3.00,0)(-2.95,0)(-2.90,0)(-2.85,0)(-2.80,0)(-2.76,0)(2.49,0)(2.53,0)(2.57,0)(2.61,0)(2.65,0)(2.69,0)(2.73,0)(2.77,0)(2.81,0)(2.85,0)(2.89,0)(2.93,0)(2.97,0)(3.00,0)};
\end{axis}
\end{tikzpicture}
\end{document}
